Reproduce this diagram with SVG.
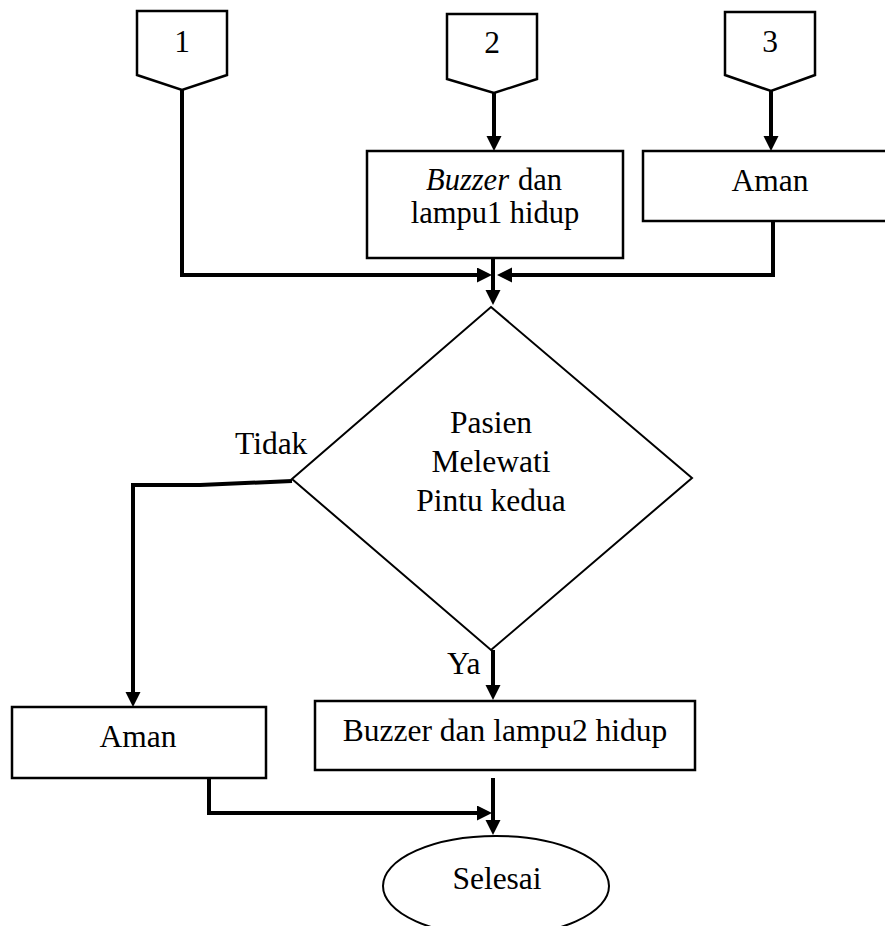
<svg xmlns="http://www.w3.org/2000/svg" width="885" height="926" viewBox="0 0 885 926">
<defs>
<style>
.shape{fill:#fff;stroke:#000;stroke-width:2.5}
.thin{fill:#fff;stroke:#000;stroke-width:2}
.conn{fill:none;stroke:#000;stroke-width:4}
.t{font-family:"Liberation Serif","Times New Roman",serif;font-size:31.5px;fill:#000;text-anchor:middle}
.s{font-size:30.5px}
.l{text-anchor:start}
.i{font-style:italic}
</style>
<marker id="arr" markerUnits="userSpaceOnUse" markerWidth="16" markerHeight="16" refX="5" refY="7.5" orient="auto">
<path d="M0,0 L15,7.5 L0,15 Z" fill="#000"/>
</marker>
</defs>
<rect width="885" height="926" fill="#fff"/>
<g id="connectors">
<path class="conn" d="M182,90 V275 H482" marker-end="url(#arr)"/>
<path class="conn" d="M494,93 V141" marker-end="url(#arr)"/>
<path class="conn" d="M771,91 V141" marker-end="url(#arr)"/>
<path class="conn" d="M773,221 V275 H507" marker-end="url(#arr)"/>
<path class="conn" d="M493,258 V295" marker-end="url(#arr)"/>
<path class="conn" d="M292,481 L200,485 H133 V697" marker-end="url(#arr)"/>
<path class="conn" d="M493,650 V690" marker-end="url(#arr)"/>
<path class="conn" d="M209,778 V813 H482" marker-end="url(#arr)"/>
<path class="conn" d="M493,778 V825" marker-end="url(#arr)"/>
</g>
<g id="off1">
<polygon class="shape" points="137,11 227,11 227,75 182,90 137,75"/>
<text class="t" x="182" y="52">1</text>
</g>
<g id="off2">
<polygon class="shape" points="447,14 537,14 537,79 494,93 447,79"/>
<text class="t" x="492" y="53">2</text>
</g>
<g id="off3">
<polygon class="shape" points="725,12 815,12 815,75 771,91 725,75"/>
<text class="t" x="770" y="52">3</text>
</g>
<g id="buzzer1">
<rect class="shape" x="367" y="151" width="256" height="107"/>
<text class="t s l i" x="426" y="190">Buzzer</text>
<text class="t s l" x="518" y="190">dan</text>
<text class="t s" x="495" y="223">lampu1 hidup</text>
</g>
<g id="aman1">
<rect class="shape" x="643" y="151" width="250" height="70"/>
<text class="t" x="770" y="191">Aman</text>
</g>
<g id="decision">
<polygon class="thin" points="491,307 692,478 491,650 292,479"/>
<text class="t" x="491" y="433">Pasien</text>
<text class="t" x="491" y="472">Melewati</text>
<text class="t" x="491" y="511">Pintu kedua</text>
</g>
<g id="label-tidak">
<text class="t l" x="235" y="454">Tidak</text>
</g>
<g id="label-ya">
<text class="t l" x="447" y="674">Ya</text>
</g>
<g id="aman2">
<rect class="shape" x="12" y="707" width="254" height="71"/>
<text class="t" x="138" y="747">Aman</text>
</g>
<g id="buzzer2">
<rect class="shape" x="315" y="701" width="380" height="69"/>
<text class="t" x="505" y="741">Buzzer dan lampu2 hidup</text>
</g>
<g id="selesai">
<ellipse class="thin" cx="496" cy="886" rx="113" ry="50"/>
<text class="t" x="497" y="889">Selesai</text>
</g>
</svg>
